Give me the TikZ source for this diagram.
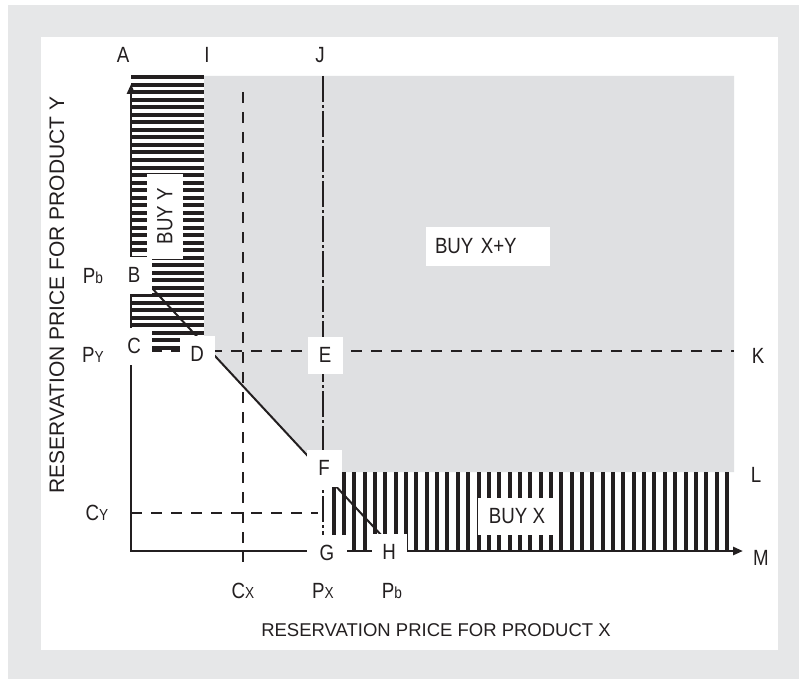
\documentclass[tikz,border=0pt]{standalone}
\usepackage{fontspec}
\setmainfont{Liberation Sans}
\newfontfamily\lblfont{Liberation Sans}[FakeStretch=0.85]
\usetikzlibrary{arrows.meta}
\definecolor{ink}{HTML}{231F20}
\definecolor{outerbg}{HTML}{E6E7E8}
\definecolor{regiongray}{HTML}{DFE0E2}
\newcommand{\smallsub}[1]{{\fontsize{16}{16}\selectfont #1}}
\begin{document}
\begin{tikzpicture}[x=1pt,y=-1pt,
  >={Triangle[length=10pt,width=8pt]},
  lbl/.style={font=\lblfont\fontsize{22}{22}\selectfont, text=ink, inner sep=0pt},
  lblbox/.style={lbl, fill=white, minimum width=35pt, minimum height=37pt},
  axisline/.style={draw=ink, line width=2.7pt, line join=miter},
  dashln/.style={draw=ink, line width=2.5pt, dash pattern=on 11pt off 9pt},
  dashdotln/.style={draw=ink, line width=2.5pt, dash pattern=on 26pt off 3pt on 3pt off 3pt},
  diag/.style={draw=ink, line width=2pt},
  bar/.style={draw=ink, line width=4pt}]
\useasboundingbox (0,0) rectangle (799,679);
\fill[white] (0,0) rectangle (799,679);
\fill[outerbg] (8,5) rectangle (799,679);
\fill[white] (41,37) rectangle (778,650);

% coordinates
\coordinate (O) at (131,551);
\coordinate (Ytop) at (131,84);
\coordinate (Xend) at (743,551);
\coordinate (Dpt) at (204,344);
\coordinate (Fpt) at (323,472);
\coordinate (PbY) at (131,265.5);
\coordinate (PbX) at (396,551);
\coordinate (PyL) at (131,351);
\coordinate (PyR) at (734,351);
\coordinate (CyL) at (131,513);
\coordinate (CyR) at (318,513);
\coordinate (CxT) at (243,92);
\coordinate (CxB) at (243,562);
\coordinate (PxT) at (323,76);
\coordinate (PxB) at (323,551);

% BUY X+Y shaded region
\fill[regiongray] (204,76) -- (734,76) -- (734,472) -- (Fpt) -- (Dpt) -- cycle;

% BUY Y horizontal stripes
\begin{scope}
  \clip (131,76) rectangle (204,351);
  \foreach \k in {0,...,37} \draw[bar] (131,70+7.5*\k) -- (204,70+7.5*\k);
\end{scope}
% BUY X vertical stripes
\begin{scope}
  \clip (323,472) rectangle (734,551);
  \foreach \k in {0,...,38} \draw[bar] (333.6+10.35*\k,472) -- (333.6+10.35*\k,551);
\end{scope}

% reference lines
\draw[dashln] (PyL) -- (PyR);
\draw[dashln] (CyL) -- (CyR);
\draw[dashln] (CxT) -- (CxB);
\draw[dashdotln] (PxT) -- (PxB);
\draw[diag] (PbY) -- (PbX);

% axes
\draw[axisline, <->] (Ytop) -- (O) -- (Xend);

% labels
\node[lbl] (A) at (123,55) {A};
\node[lbl] (I) at (207,55) {I};
\node[lbl] (J) at (320,55) {J};
\node[lbl] (PbYl) at (93,276) {P\smallsub{b}};
\node[lblbox] (B) at (134,275) {B};
\node[lblbox] (C) at (134,346) {C};
\node[lbl] (PyLl) at (93,355) {P\smallsub{Y}};
\node[lblbox] (D) at (197,354) {D};
\node[lblbox] (E) at (325,355) {E};
\node[lbl] (K) at (758,356) {K};
\node[lblbox] (F) at (324,468) {F};
\node[lbl] (L) at (756,475) {L};
\node[lbl] (CyLl) at (97,513) {C\smallsub{Y}};
\node[lblbox, minimum width=40pt] (G) at (327,553) {G};
\node[lblbox] (H) at (389,552) {H};
\node[lbl] (M) at (761,558) {M};
\node[lbl] (CxBl) at (243,591) {C\smallsub{X}};
\node[lbl] (PxBl) at (323,591) {P\smallsub{X}};
\node[lbl] (PbXl) at (392,591) {P\smallsub{b}};

\node[lbl, fill=white, rotate=90, minimum width=85pt, minimum height=36pt] (buyy) at (165,216) {BUY Y};
\node[lbl, fill=white, minimum width=78pt, minimum height=37pt] (buyx) at (517,516) {BUY X};
\node[lbl, fill=white, minimum height=39pt, text width=106pt, inner xsep=9pt, align=left] (buyxy) at (488,246) {BUY X+Y};

\node[font=\fontsize{18.5}{18.5}\selectfont, text=ink, inner sep=0pt] (xtitle) at (436,630) {RESERVATION PRICE FOR PRODUCT X};
\node[font=\fontsize{21}{21}\selectfont, text=ink, inner sep=0pt, rotate=90] (ytitle) at (57,295) {RESERVATION PRICE FOR PRODUCT Y};
\end{tikzpicture}
\end{document}
